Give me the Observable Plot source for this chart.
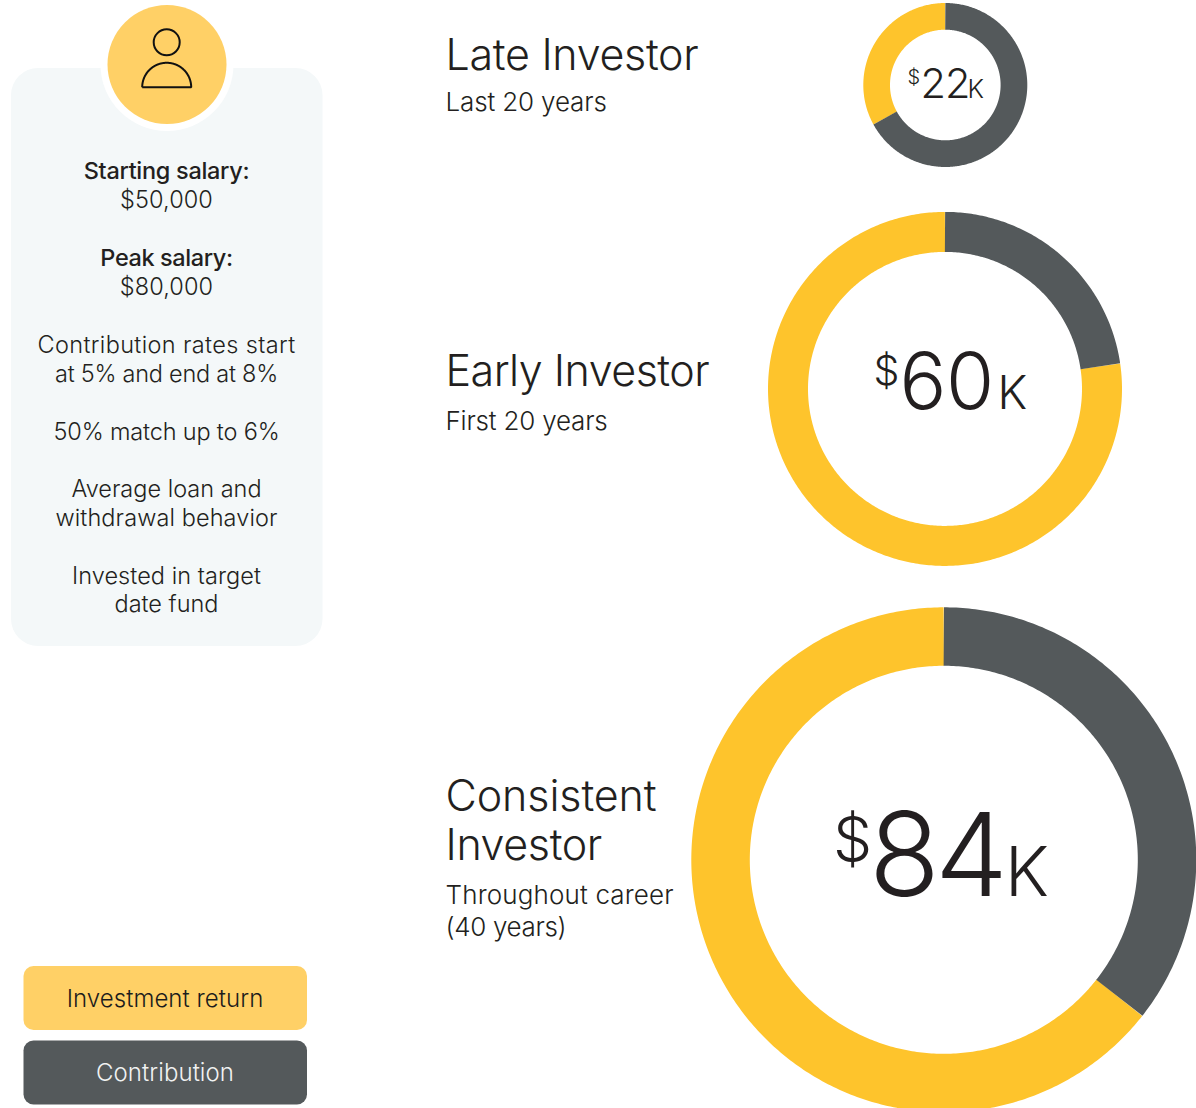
<!DOCTYPE html>
<html><head><meta charset="utf-8">
<style>html,body{margin:0;padding:0;background:#fff;overflow:hidden}svg{display:block}</style>
<script src="https://cdn.jsdelivr.net/npm/d3@7"></script>
<script src="https://cdn.jsdelivr.net/npm/@observablehq/plot@0.6"></script>
</head><body><div id="chart"></div>
<script>
// ---- values ----
const investors = ["Late Investor", "Early Investor", "Consistent Investor"];
const periods = ["Last 20 years", "First 20 years", "Throughout career (40 years)"];
const totals = [22, 60, 84];
const contributionShare = [0.67, 0.227, 0.356];
const legendLabels = ["Investment return", "Contribution"];
const assumptions = [
  ["Starting salary:", true], ["$50,000", false],
  ["Peak salary:", true], ["$80,000", false],
  ["Contribution rates start", false], ["at 5% and end at 8%", false],
  ["50% match up to 6%", false],
  ["Average loan and", false], ["withdrawal behavior", false],
  ["Invested in target", false], ["date fund", false]
];

// ---- layout ----
const W = 1196, H = 1108, FONT = "Inter, sans-serif";
const GOLD = "#FEC42C", GREY = "#54595B", SOFT = "#FFD066", CARD = "#F4F8F9", INK = "#231F20";
const rings = [
  {cx: 945.3, cy: 85, ro: 82, ri: 55.3},
  {cx: 945, cy: 388.9, ro: 177, ri: 137},
  {cx: 943.8, cy: 859.8, ro: 252.5, ri: 194}
];
const totalType = [
  {dollar: [907.5, 83.5, 20], num: [920.5, 98, 41.5], k: [967.5, 98, 25.5]},
  {dollar: [873.5, 384.5, 41], num: [899.5, 408.5, 78], k: [997.5, 408.5, 46]},
  {dollar: [833, 861, 62], num: [869, 896, 116], k: [1005, 896, 68]}
];
const heads = [
  [[investors[0], 445.5, 69.5]],
  [[investors[1], 445.5, 385.5]],
  [["Consistent", 445.5, 810.5], ["Investor", 445.5, 859.5]]
];
const subs = [
  [[periods[0], 445.5, 110.5]],
  [[periods[1], 445.5, 429.5]],
  [["Throughout career", 445.5, 903.5], ["(40 years)", 445.5, 935.5]]
];
const assumptionY = [179, 208, 266, 295, 353, 382, 440, 497, 526, 584, 612];
const tracking = {
  "Late Investor": -0.3, "Early Investor": -0.5, "Consistent": -0.1, "Investor": -0.38,
  "Last 20 years": -0.15, "First 20 years": -0.2, "Throughout career": 0.15, "(40 years)": -0.35,
  "Starting salary:": -0.3, "$50,000": 0.1, "Peak salary:": -0.4, "$80,000": 0.1,
  "Contribution rates start": 0.36, "at 5% and end at 8%": -0.25, "50% match up to 6%": -0.17,
  "withdrawal behavior": 0.1, "Invested in target": 0.05,
  "Investment return": 0.06, "Contribution": 0.08,
  "22": -1, "60": -0.5, "84": -5
};

function arc(cx, cy, r, from, to) {
  const steps = Math.max(2, Math.round(Math.abs(to - from) / 0.002));
  return d3.range(steps + 1).map(i => {
    const a = (from + (to - from) * i / steps) * 2 * Math.PI;
    return {x: cx + r * Math.sin(a), y: cy - r * Math.cos(a)};
  });
}
function label(rows, size, extra = {}) {
  return Plot.text(rows, {
    x: d => d[1], y: d => d[2] - 0.71 * size, text: d => d[0],
    lineAnchor: "top", textAnchor: "start", fontSize: size,
    fontFamily: FONT, fontWeight: 300, fill: INK, ...extra
  });
}

const donutMarks = rings.flatMap((g, i) => {
  const r = (g.ro + g.ri) / 2, sw = g.ro - g.ri, s = contributionShare[i];
  const t = totalType[i];
  return [
    Plot.line(arc(g.cx, g.cy, r, s, 1), {x: "x", y: "y", stroke: GOLD, strokeWidth: sw, strokeLinecap: "butt"}),
    Plot.line(arc(g.cx, g.cy, r, 0, s), {x: "x", y: "y", stroke: GREY, strokeWidth: sw, strokeLinecap: "butt"}),
    label([["$", t.dollar[0], t.dollar[1]]], t.dollar[2]),
    label([[String(totals[i]), t.num[0], t.num[1]]], t.num[2]),
    label([["K", t.k[0], t.k[1]]], t.k[2])
  ];
});

const chart = Plot.plot({
  width: W, height: H, margin: 0,
  x: {domain: [0, W], range: [-0.5, W - 0.5], axis: null},
  y: {domain: [0, H], range: [-0.5, H - 0.5], axis: null},
  style: {background: "transparent", fontFamily: FONT},
  marks: [
    Plot.rect([{}], {x1: 11.5, x2: 323, y1: 68.5, y2: 646.5, fill: CARD, rx: 27}),
    Plot.dot([{}], {x: () => 167, y: () => 64.5, r: 66.5, fill: "#fff"}),
    Plot.dot([{}], {x: () => 167, y: () => 64.5, r: 59.5, fill: SOFT}),
    Plot.dot([{}], {x: () => 166.7, y: () => 42.3, r: 13, stroke: "#111", strokeWidth: 2, fill: "none"}),
    Plot.line([...arc(166.7, 87.3, 24.5, -0.25, 0.25), arc(166.7, 87.3, 24.5, -0.25, -0.25)[0]],
      {x: "x", y: "y", stroke: "#111", strokeWidth: 2, strokeLinejoin: "miter", strokeLinecap: "butt"}),
    Plot.text(assumptions.filter(d => d[1]), {
      x: () => 166.5, y: d => assumptionY[assumptions.indexOf(d)] - 0.71 * 23.5, text: d => d[0],
      lineAnchor: "top", fontSize: 23.5, fontFamily: FONT, fontWeight: 500, fill: INK}),
    Plot.text(assumptions.filter(d => !d[1]), {
      x: () => 166.5, y: d => assumptionY[assumptions.indexOf(d)] - 0.71 * 23.5, text: d => d[0],
      lineAnchor: "top", fontSize: 23.5, fontFamily: FONT, fontWeight: 300, fill: INK}),
    ...heads.flat().map(h => label([h], 43)),
    ...subs.flat().map(s => label([s], 26)),
    ...donutMarks,
    Plot.rect([{}], {x1: 24, x2: 307.5, y1: 966.5, y2: 1030.5, fill: SOFT, rx: 10}),
    Plot.rect([{}], {x1: 24, x2: 307.5, y1: 1041, y2: 1105, fill: GREY, rx: 10}),
    label([[legendLabels[0], 165, 1007]], 24, {textAnchor: "middle", fill: "#1c1c1c"}),
    label([[legendLabels[1], 165, 1081]], 24, {textAnchor: "middle", fill: "#F1F2F2"})
  ]
});
chart.querySelectorAll("text").forEach(t => {
  const v = tracking[t.textContent];
  if (v !== undefined) t.style.letterSpacing = v + "px";
});
document.getElementById("chart").append(chart);
</script></body></html>
